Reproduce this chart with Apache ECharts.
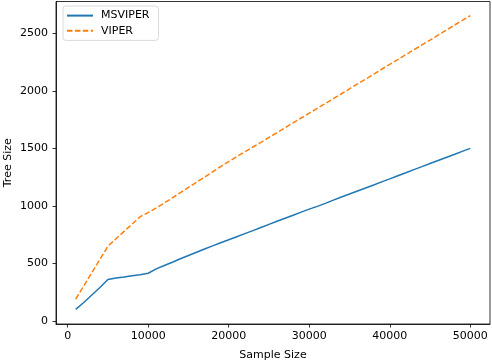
<!DOCTYPE html>
<html>
<head>
<meta charset="utf-8">
<script src="https://cdn.jsdelivr.net/npm/echarts@6/dist/echarts.min.js"></script>
<style>
html, body { margin: 0; padding: 0; background: #fff; }
#main { width: 492px; height: 362px; }
</style>
</head>
<body>
<div id="main"></div>
<script>
var sampleSizes = [];
for (var s = 1000; s <= 50000; s += 1000) sampleSizes.push(s);

var msviper = [100, 160, 225, 290, 360, 372, 382, 393, 402, 414,
	452, 482, 510, 540, 568, 597, 625, 652, 680, 705,
	732, 759, 785, 812, 839, 866, 893, 919, 946, 972,
	996, 1022, 1050, 1077, 1103, 1130, 1156, 1182, 1209, 1235,
	1262, 1288, 1315, 1341, 1368, 1394, 1421, 1447, 1474, 1500];

var viper = [190, 305, 420, 535, 650, 714, 778, 842, 906, 942,
	982, 1025, 1070, 1115, 1160, 1205, 1250, 1295, 1342, 1385,
	1428, 1470, 1512, 1553, 1595, 1637, 1680, 1722, 1764, 1806,
	1848, 1890, 1932, 1975, 2018, 2060, 2102, 2145, 2188, 2230,
	2272, 2315, 2357, 2400, 2442, 2485, 2527, 2570, 2612, 2655];

var xTicks = [0, 10000, 20000, 30000, 40000, 50000];
var yTicks = [0, 500, 1000, 1500, 2000, 2500];

function pairs(ys) {
	return sampleSizes.map(function(x, i) { return [x, ys[i]]; });
}

function plain(v) {
	return String(v);
}

var FONT = 'DejaVu Sans';
var chart = echarts.init(document.getElementById('main'), null, { renderer: 'canvas' });

chart.setOption({
	animation: false,
	backgroundColor: '#fff',
	grid: {
		left: 56, right: 2, top: 1.5, bottom: 38,
		containLabel: false, outerBoundsMode: 'none',
		show: true, borderColor: '#000', borderWidth: 0.8, backgroundColor: 'transparent'
	},
	legend: {
		left: 63, top: 6,
		orient: 'vertical',
		padding: [4, 9, 4, 3],
		itemGap: 4,
		itemWidth: 26, itemHeight: 14,
		itemStyle: { opacity: 0 },
		backgroundColor: '#fff',
		borderColor: '#d0d0d0', borderWidth: 0.8, borderRadius: 3,
		textStyle: { fontFamily: FONT, fontSize: 11, color: '#000', padding: [0, 0, 0, 3] },
		data: ['MSVIPER', 'VIPER']
	},
	xAxis: {
		type: 'value',
		min: -1450, max: 52450,
		name: 'Sample Size', nameLocation: 'middle', nameGap: 26, nameMoveOverlap: false,
		nameTextStyle: { fontFamily: FONT, fontSize: 11, color: '#000' },
		axisLine: { show: true, onZero: false, lineStyle: { color: '#000', width: 0.8 } },
		axisTick: { show: true, length: 3.5, lineStyle: { color: '#000', width: 0.8 }, customValues: xTicks },
		axisLabel: { fontFamily: FONT, fontSize: 11, color: '#000', margin: 7, customValues: xTicks, formatter: plain },
		splitLine: { show: false }
	},
	yAxis: {
		type: 'value',
		min: -27, max: 2777,
		name: 'Tree Size', nameLocation: 'middle', nameGap: 42, nameMoveOverlap: false,
		nameTextStyle: { fontFamily: FONT, fontSize: 11, color: '#000' },
		axisLine: { show: true, onZero: false, lineStyle: { color: '#000', width: 0.8 } },
		axisTick: { show: true, length: 3.5, lineStyle: { color: '#000', width: 0.8 }, customValues: yTicks },
		axisLabel: { fontFamily: FONT, fontSize: 11, color: '#000', margin: 8, customValues: yTicks, formatter: plain },
		splitLine: { show: false }
	},
	series: [{
			name: 'MSVIPER',
			type: 'line',
			data: pairs(msviper),
			symbol: 'none',
			color: '#1f77b4',
			lineStyle: { width: 1.5, color: '#1f77b4' }
		},
		{
			name: 'VIPER',
			type: 'line',
			data: pairs(viper),
			symbol: 'none',
			color: '#ff7f0e',
			lineStyle: { width: 1.5, color: '#ff7f0e', type: [5.5, 2.4] }
		}
	]
});
</script>
</body>
</html>
